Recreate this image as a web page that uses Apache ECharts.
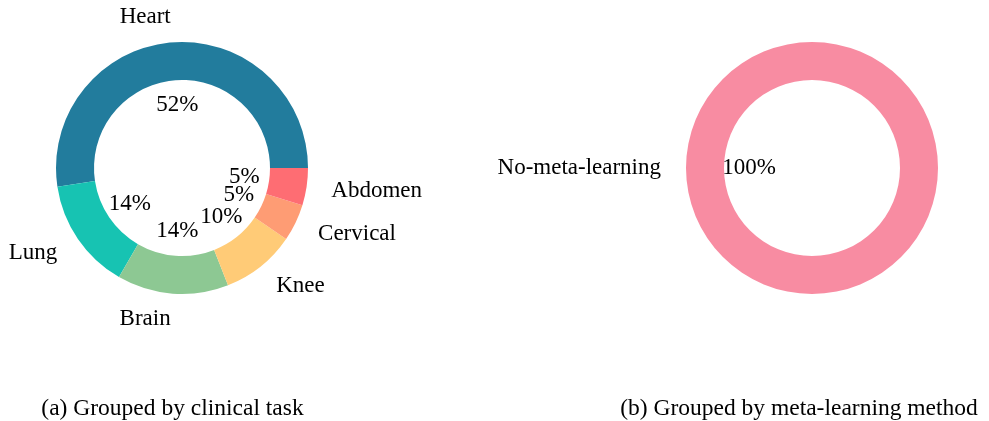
<!DOCTYPE html>
<html>
<head>
<meta charset="utf-8">
<script src="https://cdn.jsdelivr.net/npm/echarts@6/dist/echarts.min.js"></script>
<style>
html,body{margin:0;padding:0;background:#fff;}
#main{width:989px;height:421px;}
</style>
</head>
<body>
<div id="main"></div>
<script>
// ---- data ----
const taskNames = ['Heart', 'Lung', 'Brain', 'Knee', 'Cervical', 'Abdomen'];
const taskValues = [11, 3, 3, 2, 1, 1];   // number of studies per task
const taskColors = ['#227C9D', '#17C3B2', '#8DC893', '#FFCB77', '#FE9C74', '#FE6D73'];
const methodNames = ['No-meta-learning'];
const methodValues = [21];
const methodColors = ['#F88CA2'];
const captions = ['(a) Grouped by clinical task', '(b) Grouped by meta-learning method'];

const FONT = '"Liberation Serif", "DejaVu Serif", serif';
const FS = 23;

function mkData(names, values, colors) {
  return names.map((n, i) => ({ name: n, value: values[i], itemStyle: { color: colors[i] } }));
}

function donut(center, names, values, colors) {
  const data = mkData(names, values, colors);
  const total = values.reduce((a, b) => a + b, 0);
  const common = {
    type: 'pie', center: center, startAngle: 0, clockwise: false,
    avoidLabelOverlap: false, animation: false, silent: true,
    minAngle: 0, emphasis: { disabled: true },
    labelLayout: { hideOverlap: false, moveOverlap: null }
  };
  const ghost = () => data.map(d => ({ name: d.name, value: d.value, itemStyle: { color: 'rgba(0,0,0,0)' } }));
  const out = [
    Object.assign({}, common, {
      radius: [88, 126],
      data: data,
      label: { show: false }, labelLine: { show: false }
    })
  ];
  // percentage labels: one series per slice so no label can hide another
  data.forEach((d, k) => {
    out.push(Object.assign({}, common, {
      radius: [0, 120],
      data: ghost().map((g, i) => Object.assign(g, { label: { show: i === k } })),
      label: {
        show: true, position: 'inside', color: '#000', fontFamily: FONT, fontSize: FS,
        padding: [4, 0, 0, 0],
        formatter: p => Math.round(p.value / total * 100) + '%'
      },
      labelLine: { show: false }
    }));
  });
  out.push(Object.assign({}, common, {
    radius: [0, 126],
    data: ghost(),
    label: {
      show: true, position: 'outside', color: '#000', fontFamily: FONT, fontSize: FS,
      formatter: '{b}', distanceToLabelLine: 0, alignTo: 'none', bleedMargin: 0,
      padding: [4, 0, 0, 0]
    },
    labelLine: { show: false, length: 25, length2: 0 }
  }));
  return out;
}

const chart = echarts.init(document.getElementById('main'), null, { renderer: 'canvas' });
chart.setOption({
  backgroundColor: '#fff',
  animation: false,
  series: [].concat(
    donut([182, 168], taskNames, taskValues, taskColors),
    donut([812, 168], methodNames, methodValues, methodColors)
  ),
  graphic: [
    { type: 'text', x: 172.5, y: 409, style: { text: captions[0], font: '23.5px ' + FONT, fill: '#000', align: 'center', verticalAlign: 'middle' } },
    { type: 'text', x: 799, y: 409, style: { text: captions[1], font: '23.5px ' + FONT, fill: '#000', align: 'center', verticalAlign: 'middle' } }
  ]
});
</script>
</body>
</html>
